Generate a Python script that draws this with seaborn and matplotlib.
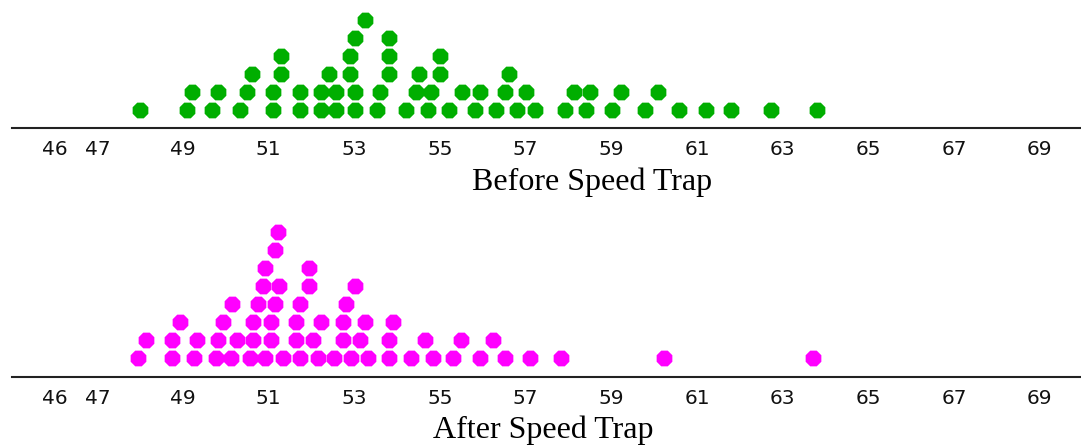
import matplotlib
matplotlib.use("Agg")
import pandas as pd
import matplotlib.pyplot as plt
import seaborn as sns

# speeds (mph), one list per stacking row (bottom row first)
before_rows = [
    [48.00, 49.09, 49.68, 50.32, 51.11, 51.72, 52.23, 52.58, 53.02, 53.53, 54.21, 54.72,
     55.21, 55.81, 56.31, 56.79, 57.21, 57.91, 58.41, 59.01, 59.78, 60.59, 61.20, 61.80,
     62.72, 63.81],
    [49.22, 49.81, 50.49, 51.11, 51.74, 52.23, 52.58, 53.02, 53.60, 54.45, 54.80, 55.51,
     55.94, 56.52, 57.01, 58.14, 58.51, 59.23, 60.09],
    [50.62, 51.28, 52.42, 52.89, 53.82, 54.50, 54.99, 56.61],
    [51.28, 52.89, 53.82, 54.99],
    [53.02, 53.82],
    [53.24],
]

after_rows = [
    [47.94, 48.74, 49.25, 49.78, 50.13, 50.56, 50.92, 51.33, 51.72, 52.16, 52.53, 52.93,
     53.33, 53.82, 54.33, 54.83, 55.30, 55.94, 56.52, 57.11, 57.83, 60.23, 63.70],
    [48.14, 48.74, 49.32, 49.82, 50.25, 50.63, 51.05, 51.64, 52.03, 52.73, 53.14, 53.82,
     54.64, 55.50, 56.23],
    [48.94, 49.93, 50.63, 51.05, 51.64, 52.23, 52.73, 53.24, 53.90],
    [50.14, 50.76, 51.14, 51.72, 52.81],
    [50.86, 51.23, 51.94, 53.02],
    [50.91, 51.94],
    [51.14],
    [51.22],
]

tick_values = [46, 47, 49, 51, 53, 55, 57, 59, 61, 63, 65, 67, 69]
titles = ["Before Speed Trap", "After Speed Trap"]
colors = ["#00AE00", "#FF00FF"]


def to_frame(rows):
    recs = [(v, i) for i, row in enumerate(rows) for v in row]
    return pd.DataFrame(recs, columns=["speed", "stack"])


df_before = to_frame(before_rows)
df_after = to_frame(after_rows)

sns.set_style("white")
plt.rcParams["font.family"] = ["DejaVu Sans"]

W, H = 1081, 446
fig = plt.figure(figsize=(W / 100, H / 100), dpi=100)

px_per_unit = 42.83
row_px = 18.0
x0_px = 11.7
ax_w = (70 - 45) * px_per_unit / W

# (spine y in px from top, offset of first row above spine, height above spine)
layout = [(127.7, 17.7, 127.7), (377.0, 18.7, 170.0)]

for k, (df, title, color) in enumerate(zip([df_before, df_after], titles, colors)):
    spine_y, off, hgt = layout[k]
    ax = fig.add_axes([x0_px / W, (H - spine_y) / H, ax_w, hgt / H])
    sns.scatterplot(data=df, x="speed", y="stack", ax=ax, color=color, marker="8",
                    s=150, linewidth=0, clip_on=False, legend=False)
    ax.set_xlim(45, 70)
    lo = -off / row_px
    ax.set_ylim(lo, lo + hgt / row_px)
    for side in ["top", "left", "right"]:
        ax.spines[side].set_visible(False)
    ax.spines["bottom"].set_linewidth(1.5)
    ax.spines["bottom"].set_color("#222222")
    ax.set_yticks([])
    ax.set_xticks(tick_values)
    ax.set_xticklabels([str(t) for t in tick_values])
    ax.tick_params(axis="x", direction="in", length=3.5, width=1.2, color="#222222",
                   pad=9, labelsize=14.5, labelcolor="#111111")
    ax.set_xlabel("")
    ax.set_ylabel("")
    ax.patch.set_alpha(0)

fig.text(592 / W, (H - 190) / H, titles[0], ha="center", va="baseline",
         family="Liberation Serif", fontsize=23, color="black")
fig.text(543 / W, (H - 438.3) / H, titles[1], ha="center", va="baseline",
         family="Liberation Serif", fontsize=23, color="black")

fig.savefig("out.png", dpi=100)
